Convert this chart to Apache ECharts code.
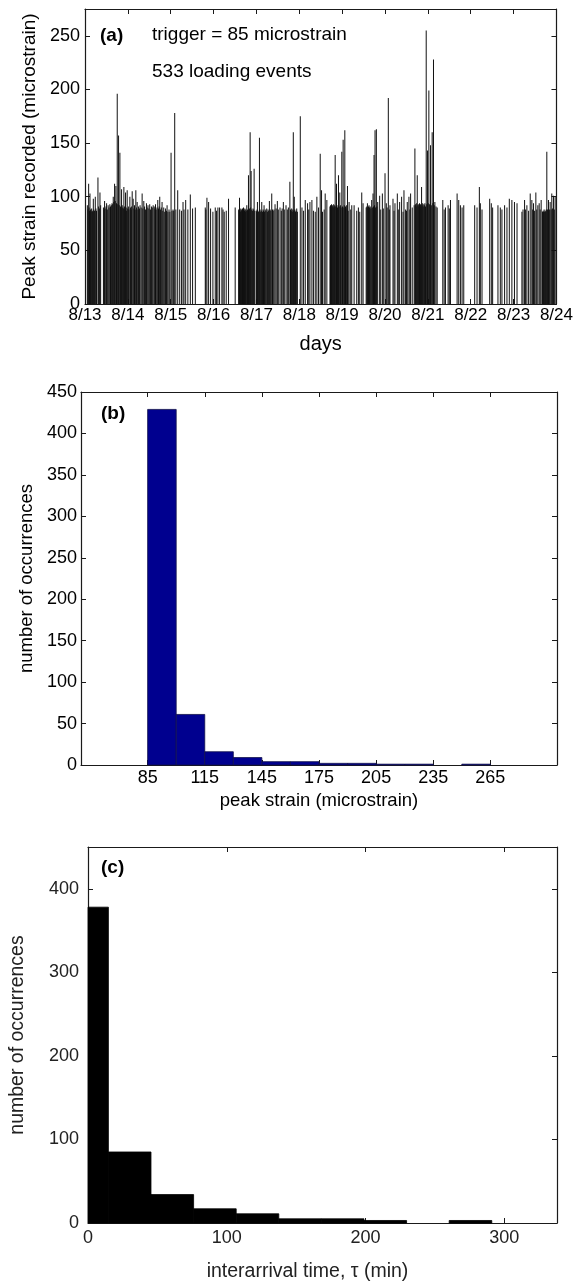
<!DOCTYPE html>
<html>
<head>
<meta charset="utf-8">
<script src="https://cdn.jsdelivr.net/npm/echarts@6/dist/echarts.min.js"></script>
<style>
  html, body { margin: 0; padding: 0; background: #fff; }
  #chart { width: 576px; height: 1283px; }
</style>
</head>
<body>
<div id="chart"></div>
<script>
// (a) loading events: [day of August, peak strain]
const loadEvents = [
  [13.055,92],[13.07,88],[13.085,112],[13.095,90],[13.105,87],[13.116,103],[13.13,88],[13.14,86],[13.155,89],[13.17,87],[13.18,86],[13.194,98],[13.205,88],[13.22,87],[13.24,100],[13.255,89],[13.268,87],
  [13.302,118],[13.318,91],[13.335,89],[13.349,104],[13.365,92],
  [13.43,90],[13.445,88],[13.457,96],[13.47,89],[13.49,91],[13.504,94],[13.52,88],[13.54,92],[13.56,90],[13.58,93],[13.595,91],
  [13.615,92],[13.63,94],[13.645,93],[13.659,100],[13.672,95],[13.69,112],[13.705,96],[13.721,110],[13.735,94],[13.752,196],[13.765,93],[13.783,157],[13.798,92],[13.814,141],[13.83,91],[13.84,90],[13.853,107],[13.868,92],[13.88,90],[13.895,89],[13.907,109],[13.92,91],[13.932,88],[13.946,104],[13.96,90],[13.972,87],[13.984,106],
  [13.998,89],[14.012,91],[14.025,88],[14.047,100],[14.06,90],[14.075,88],[14.088,91],[14.101,105],[14.124,98],[14.14,89],[14.155,92],[14.17,88],[14.186,106],[14.2,90],[14.217,95],[14.235,88],[14.25,91],[14.27,89],[14.285,92],
  [14.31,90],[14.333,103],[14.35,89],[14.372,96],[14.39,91],[14.41,88],[14.434,94],[14.45,90],[14.47,92],[14.49,89],[14.51,93],[14.53,88],[14.55,91],[14.57,90],[14.59,92],
  [14.615,91],[14.63,89],[14.645,93],[14.66,88],[14.68,90],[14.698,97],[14.715,89],[14.73,91],[14.744,100],[14.76,88],[14.78,90],[14.798,95],[14.815,87],[14.837,90],[14.86,86],[14.88,89],[14.9,87],[14.915,92],[14.935,86],[14.96,88],[14.98,86],
  [15.008,141],[15.03,87],[15.054,88],[15.07,87],[15.093,178],[15.12,88],[15.163,106],[15.209,88],[15.25,87],[15.287,95],[15.31,88],[15.349,97],[15.4,88],[15.457,102],[15.51,89],[15.574,90],
  [15.806,90],[15.82,88],[15.845,99],[15.884,95],[15.93,89],[15.984,86],[16.039,90],[16.07,87],[16.101,90],[16.14,90],[16.194,90],[16.22,88],[16.248,86],[16.295,87],[16.349,98],
  [16.504,90],[16.585,88],[16.595,87],[16.605,99],[16.615,88],[16.625,86],[16.635,89],[16.645,87],[16.655,88],[16.665,86],[16.675,89],[16.685,87],[16.698,90],[16.71,88],[16.72,87],[16.73,89],[16.74,86],[16.75,88],[16.762,87],[16.775,92],[16.79,88],[16.8,87],[16.814,120],[16.825,88],[16.84,89],[16.853,160],[16.865,90],[16.876,124],[16.89,88],[16.905,87],[16.92,89],[16.935,88],[16.946,126],[16.96,87],
  [16.995,87],[17.005,86],[17.015,88],[17.023,95],[17.035,87],[17.05,86],[17.07,155],[17.085,88],[17.1,86],[17.112,87],[17.124,95],[17.14,86],[17.155,88],[17.165,87],[17.178,92],[17.19,86],[17.205,88],[17.22,87],[17.24,89],[17.255,86],[17.27,88],[17.285,87],[17.302,96],[17.32,88],[17.335,87],[17.357,103],[17.375,88],[17.39,87],
  [17.41,88],[17.434,93],[17.46,89],[17.488,96],[17.51,88],[17.55,90],[17.58,87],[17.6,89],[17.628,95],[17.65,88],[17.69,92],[17.72,88],[17.745,90],[17.78,114],
  [17.795,88],[17.81,87],[17.822,89],[17.835,86],[17.848,88],[17.86,160],[17.872,87],[17.883,100],[17.895,88],[17.91,86],[17.925,87],[17.94,89],[17.955,86],
  [18.023,175],[18.062,90],[18.1,87],[18.139,97],[18.193,94],[18.22,88],[18.248,95],[18.294,97],[18.33,87],[18.372,86],[18.41,100],[18.449,90],[18.488,140],[18.519,106],[18.542,86],[18.58,88],[18.604,103],[18.643,97],
  [18.715,91],[18.728,92],[18.74,90],[18.752,93],[18.765,91],[18.778,92],[18.79,90],[18.802,93],[18.815,91],[18.826,92],[18.837,139],[18.85,91],[18.868,112],[18.88,92],[18.892,90],[18.914,120],[18.93,91],[18.945,104],[18.96,92],[18.975,90],[18.992,142],[19.008,91],[19.023,153],[19.04,90],[19.05,92],[19.062,162],[19.078,91],[19.09,89],[19.105,92],[19.124,110],
  [19.14,87],[19.162,95],[19.2,88],[19.224,92],[19.279,92],[19.34,87],[19.379,90],[19.41,86],[19.457,104],[19.488,94],
  [19.56,90],[19.575,91],[19.589,94],[19.6,90],[19.615,91],[19.627,92],[19.64,90],[19.655,91],[19.67,89],[19.689,97],[19.705,90],[19.72,103],[19.732,91],[19.744,139],[19.755,92],[19.767,162],[19.78,90],[19.798,163],[19.81,91],[19.829,95],
  [19.875,101],[19.9,88],[19.938,103],[19.96,89],[20.0,122],[20.03,94],[20.05,90],[20.077,192],[20.1,88],[20.116,92],
  [20.186,98],[20.21,87],[20.232,94],[20.287,103],[20.31,88],[20.341,95],[20.387,100],[20.42,86],[20.442,106],[20.48,88],[20.5,87],[20.519,95],[20.558,100],[20.58,88],[20.597,103],[20.635,90],
  [20.68,92],[20.697,145],[20.71,93],[20.725,91],[20.738,94],[20.752,120],[20.765,92],[20.778,93],[20.79,91],[20.805,94],[20.818,92],[20.83,93],[20.84,91],[20.853,109],[20.865,92],[20.878,94],[20.89,91],[20.905,93],[20.918,92],[20.93,94],[20.945,91],[20.961,255],[20.975,93],[20.992,143],[21.008,94],[21.023,199],[21.04,93],[21.062,148],[21.08,92],[21.1,160],[21.115,94],[21.131,228],[21.148,92],[21.163,95],[21.19,91],[21.217,90],
  [21.348,97],[21.38,88],[21.41,90],[21.472,92],[21.5,89],[21.527,97],
  [21.682,103],[21.72,97],[21.759,92],[21.798,90],[21.837,92],
  [22.092,92],[22.147,90],[22.201,109],[22.224,94],[22.263,88],
  [22.442,98],[22.48,94],[22.511,90],
  [22.635,92],[22.69,90],[22.728,88],[22.79,92],[22.845,90],
  [22.9,98],[22.96,97],[23.02,95],[23.08,94],[23.194,86],[23.22,88],[23.256,97],[23.28,88],[23.31,92],[23.35,87],[23.388,103],[23.426,97],[23.445,88],[23.465,94],[23.49,87],[23.519,104],[23.54,88],[23.566,92],[23.597,94],[23.62,88],[23.643,97],
  [23.675,86],[23.688,87],[23.7,86],[23.712,88],[23.725,86],[23.738,87],[23.75,86],[23.762,88],[23.775,142],[23.79,88],[23.814,97],[23.835,88],[23.853,95],[23.875,88],[23.891,103],[23.91,89],[23.93,101],[23.95,88],[23.969,100]
];
const dayTicks = [13, 14, 15, 16, 17, 18, 19, 20, 21, 22, 23, 24];
const strainTicksA = [0, 50, 100, 150, 200, 250];

// (b) histogram of peak strain, 15 microstrain bins
const strainBinEdges = [85, 100, 115, 130, 145, 160, 175, 190, 205, 220, 235, 250, 265];
const strainCounts = [429, 61, 16, 9, 4, 4, 2, 2, 1, 1, 0, 1];
const strainTicksB = [85, 115, 145, 175, 205, 235, 265];
const countTicksB = [0, 50, 100, 150, 200, 250, 300, 350, 400, 450];

// (c) histogram of interarrival time (min)
const tauBinEdges = [-16.0, 14.7, 45.4, 76.1, 106.8, 137.5, 168.2, 198.9, 229.6, 260.3, 291.0];
const tauCounts = [378, 85, 34, 17, 11, 5, 5, 3, 0, 3];
const tauTicks = [0, 100, 200, 300];
const countTicksC = [0, 100, 200, 300, 400];

const FONT = 'Liberation Sans, Arial, sans-serif';

function binRows(edges, counts) {
  let rows = [];
  for (let i = 0; i < counts.length; i++) {
    rows.push([edges[i], edges[i + 1], counts[i]]);
  }
  return rows;
}

function histItem(fill, stroke) {
  return function (params, api) {
    let c = api.value(2);
    if (!c) return;
    let p0 = api.coord([api.value(0), c]);
    let p1 = api.coord([api.value(1), 0]);
    let rect = echarts.graphic.clipRectByRect(
      { x: p0[0], y: p0[1], width: p1[0] - p0[0], height: p1[1] - p0[1] },
      { x: params.coordSys.x, y: params.coordSys.y, width: params.coordSys.width, height: params.coordSys.height }
    );
    if (!rect) return;
    return { type: 'rect', shape: rect, style: { fill: fill, stroke: stroke, lineWidth: 0.8 } };
  };
}

// one axis of a boxed (matlab style) frame
function frameAxis(gridIndex, position, min, max, ticks, labelOpt, nameOpt) {
  let ax = {
    type: 'value', gridIndex: gridIndex, position: position, min: min, max: max,
    axisLine: { show: true, onZero: false, lineStyle: { color: '#1a1a1a', width: 1.2 } },
    axisTick: { show: true, inside: true, length: 5, customValues: ticks, lineStyle: { color: '#1a1a1a' } },
    axisLabel: { show: false },
    splitLine: { show: false }
  };
  if (labelOpt) {
    ax.axisLabel = Object.assign({
      show: true, customValues: ticks, color: '#000', fontSize: 18, fontFamily: FONT
    }, labelOpt);
  }
  if (nameOpt) Object.assign(ax, nameOpt);
  return ax;
}

function nameStyle(extra) {
  return Object.assign({ color: '#000', fontSize: 19, fontFamily: FONT }, extra || {});
}

let chart = echarts.init(document.getElementById('chart'), null, { renderer: 'canvas' });

let option = {
  animation: false,
  backgroundColor: '#fff',
  grid: [
    { left: 85, top: 9, width: 473, height: 295 },
    { left: 81, top: 392, width: 476, height: 373 },
    { left: 85, top: 847, width: 472, height: 377 }
  ],
  xAxis: [
    frameAxis(0, 'bottom', 13, 24, dayTicks,
      { margin: 3, fontSize: 17, formatter: v => '8/' + v },
      { name: 'days', nameLocation: 'middle', nameGap: 30, nameTextStyle: nameStyle({ fontSize: 20 }) }),
    frameAxis(0, 'top', 13, 24, dayTicks),
    frameAxis(1, 'bottom', 50, 300, strainTicksB,
      { margin: 4 },
      { name: 'peak strain (microstrain)', nameLocation: 'middle', nameGap: 26, nameTextStyle: nameStyle({ fontSize: 18.5 }) }),
    frameAxis(1, 'top', 50, 300, strainTicksB),
    frameAxis(2, 'bottom', 0, 338, tauTicks,
      { margin: 6, color: '#222' },
      { name: 'interarrival time, τ (min)', nameLocation: 'middle', nameGap: 39,
        nameTextStyle: nameStyle({ color: '#222', fontSize: 19.5, padding: [0, 30, 0, 0] }) }),
    frameAxis(2, 'top', 0, 338, tauTicks)
  ],
  yAxis: [
    frameAxis(0, 'left', 0, 275, strainTicksA,
      { margin: 5 },
      { name: 'Peak strain recorded (microstrain)', nameLocation: 'middle', nameGap: 45, nameTextStyle: nameStyle() }),
    frameAxis(0, 'right', 0, 275, strainTicksA),
    frameAxis(1, 'left', 0, 450, countTicksB,
      { margin: 4 },
      { name: 'number of occurrences', nameLocation: 'middle', nameGap: 42, nameTextStyle: nameStyle({ fontSize: 18.5 }) }),
    frameAxis(1, 'right', 0, 450, countTicksB),
    frameAxis(2, 'left', 0, 450, countTicksC,
      { margin: 9, color: '#222' },
      { name: 'number of occurrences', nameLocation: 'middle', nameGap: 60, nameTextStyle: nameStyle({ color: '#222', fontSize: 19.5 }) }),
    frameAxis(2, 'right', 0, 450, countTicksC)
  ],
  series: [
    {
      type: 'bar', xAxisIndex: 0, yAxisIndex: 0,
      barWidth: 1, itemStyle: { color: '#111' },
      data: loadEvents
    },
    {
      type: 'custom', xAxisIndex: 2, yAxisIndex: 2,
      renderItem: histItem('#00008f', '#10104a'),
      encode: { x: [0, 1], y: 2 },
      data: binRows(strainBinEdges, strainCounts)
    },
    {
      type: 'custom', xAxisIndex: 4, yAxisIndex: 4,
      renderItem: histItem('#000', '#000'),
      encode: { x: [0, 1], y: 2 },
      data: binRows(tauBinEdges, tauCounts)
    }
  ],
  graphic: [
    { type: 'text', left: 100, top: 26, style: { text: '(a)', font: 'bold 19px ' + FONT, fill: '#000' } },
    { type: 'text', left: 152, top: 25, style: { text: 'trigger = 85 microstrain', font: '19px ' + FONT, fill: '#000' } },
    { type: 'text', left: 152, top: 62, style: { text: '533 loading events', font: '19px ' + FONT, fill: '#000' } },
    { type: 'text', left: 101, top: 404, style: { text: '(b)', font: 'bold 19px ' + FONT, fill: '#000' } },
    { type: 'text', left: 101, top: 858, style: { text: '(c)', font: 'bold 19px ' + FONT, fill: '#000' } }
  ]
};

chart.setOption(option);
</script>
</body>
</html>
